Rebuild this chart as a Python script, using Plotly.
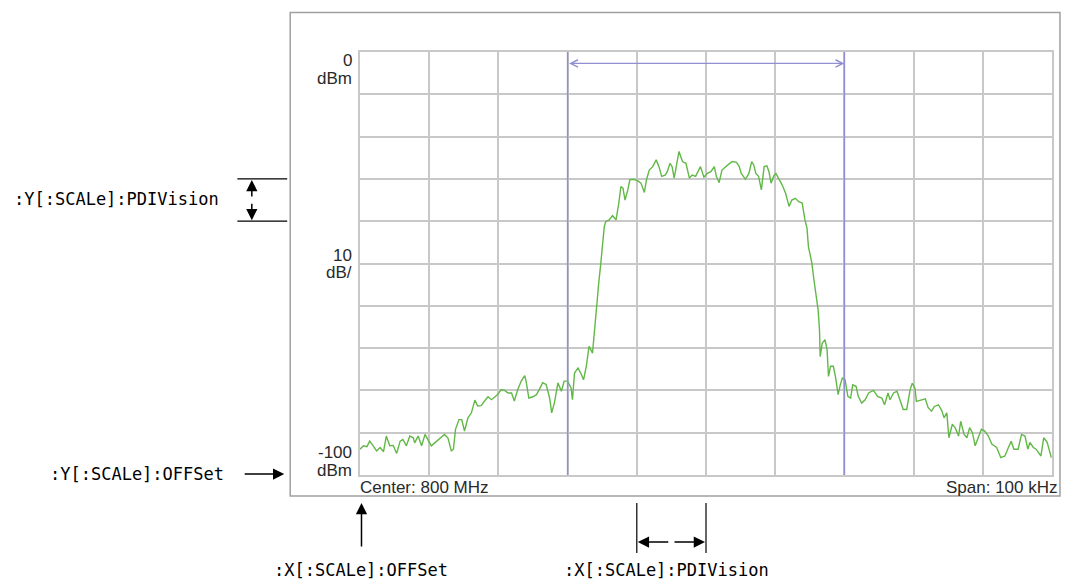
import plotly.graph_objects as go

# ---------------- data ----------------
center_label = "Center: 800 MHz"
span_label = "Span: 100 kHz"
x_range_khz = [-50, 50]
y_range_dbm = [-100, 0]
marker_khz = [-20, 20]

freq_khz = [
    -50.0, -49.5, -49.0, -48.6, -48.1, -47.6, -47.1, -46.6, -46.2, -45.7,
    -45.2, -44.7, -44.2, -43.8, -43.3, -42.8, -42.3, -42.1, -41.6, -41.1,
    -40.6, -40.2, -39.7, -39.2, -38.7, -38.2, -37.8, -37.3, -36.8, -36.5,
    -36.2, -35.7, -35.3, -34.9, -34.4, -33.9, -33.4, -33.0, -32.5, -32.0,
    -31.5, -31.0, -30.5, -30.1, -29.6, -29.1, -28.6, -28.1, -27.7, -27.2,
    -26.7, -26.2, -26.0, -25.6, -25.0, -24.5, -24.1, -23.6, -23.1, -22.6,
    -22.3, -21.9, -21.4, -20.9, -20.5, -20.0, -19.5, -19.3,
    -19.0, -18.5, -18.1, -17.7, -17.3, -16.9, -16.4, -16.1, -15.8, -15.5,
    -15.2, -14.9, -14.7, -14.5, -14.0, -13.5, -13.0, -12.6, -12.3, -12.0,
    -11.7, -11.3, -11.0, -10.5, -9.9, -9.4, -8.9, -8.6, -8.2, -7.7,
    -7.2, -6.8, -6.4, -5.9, -5.6, -5.2, -4.9, -4.6, -4.3, -3.9,
    -3.4, -2.9, -2.4, -2.0, -1.5, -1.1, -0.8, -0.3, 0.2, 0.7,
    1.2, 1.5, 1.9, 2.3, 2.8, 3.3, 3.8, 4.4, 4.8, 5.1,
    5.7, 6.2, 6.6, 6.9, 7.2, 7.6, 8.0, 8.4, 8.8, 9.1,
    9.4, 9.8, 10.1, 10.5,
    11.0, 11.5, 12.0, 12.4, 12.9, 13.4, 13.9, 14.3, 14.6, 14.8,
    15.3, 15.6, 15.9, 16.2, 16.4, 16.5, 16.8, 17.2, 17.5, 17.7,
    18.0, 18.4, 18.7, 19.1, 19.4, 19.7, 20.1, 20.5, 20.9, 21.2,
    21.7, 22.0, 22.5, 23.0, 23.5, 24.2, 24.8,
    25.4, 25.8, 26.3, 26.6, 27.1, 27.6, 28.1, 28.5, 29.0, 29.5,
    29.8, 30.2, 30.4, 31.2, 31.7, 32.1, 32.6, 33.0, 33.6, 34.1,
    34.4, 34.8, 35.1, 35.6, 36.0, 36.5, 36.8, 37.3, 37.7, 38.1,
    38.5, 38.9, 39.3, 39.8, 40.3, 40.8, 41.3, 42.0, 42.6, 43.2,
    43.7, 44.1, 44.5, 45.1, 45.6, 46.1, 46.5, 46.8, 47.3, 47.7,
    48.4, 48.8, 49.3, 49.9,
]

level_dbm = [
    -93.9, -93.1, -93.3, -92.0, -93.1, -94.3, -93.5, -94.5, -90.8, -93.1,
    -93.0, -94.9, -92.0, -91.6, -93.1, -90.8, -91.2, -92.4, -90.8, -93.1,
    -90.4, -91.6, -93.1, -92.4, -91.6, -90.8, -90.4, -91.2, -94.3, -93.9,
    -89.2, -86.9, -86.9, -89.6, -86.5, -85.3, -82.3, -83.7, -83.6, -82.5,
    -81.5, -82.2, -81.4, -81.0, -79.8, -80.0, -80.6, -80.6, -82.5, -79.8,
    -77.8, -76.5, -77.8, -81.8, -81.5, -81.0, -79.8, -78.2, -78.6, -81.8,
    -85.3, -82.9, -78.2, -80.2, -77.8, -77.8, -79.4, -82.2,
    -75.9, -74.7, -75.9, -77.5, -74.3, -69.6, -71.2, -64.9, -60.2, -54.6,
    -49.9, -44.4, -41.3, -40.1, -39.7, -38.7, -39.7, -35.7, -31.8, -32.2,
    -35.0, -32.6, -30.2, -30.1, -30.4, -31.0, -33.2, -30.2, -27.9, -27.1,
    -25.5, -27.1, -29.4, -29.1, -28.3, -26.3, -27.1, -29.8, -26.7, -23.5,
    -25.9, -26.3, -29.8, -29.1, -29.4, -27.9, -27.1, -29.6, -28.7, -28.3,
    -27.1, -29.4, -30.9, -27.9, -27.1, -26.5, -25.9, -26.1, -27.1, -28.7,
    -30.1, -28.7, -25.9, -26.7, -28.7, -29.4, -32.6, -27.1, -26.9, -28.3,
    -31.0, -29.3, -28.7, -29.8,
    -31.4, -33.4, -36.5, -35.0, -34.6, -35.4, -35.7, -39.7, -41.7, -46.0,
    -49.9, -53.9, -57.8, -60.9, -65.7, -72.0, -68.8, -68.0, -70.4, -76.7,
    -74.3, -74.3, -76.7, -81.0, -78.7, -77.1, -77.5, -81.4, -81.8, -78.7,
    -79.1, -81.4, -83.0, -82.2, -80.6, -80.0, -81.4,
    -81.8, -83.4, -80.6, -82.2, -80.6, -80.2, -82.6, -84.5, -84.5, -79.8,
    -78.3, -79.5, -82.6, -82.2, -82.0, -84.1, -84.9, -83.8, -83.4, -84.9,
    -86.5, -85.3, -91.2, -88.0, -88.8, -90.8, -87.3, -90.4, -91.2, -88.8,
    -90.0, -93.1, -91.2, -89.2, -89.6, -90.8, -92.7, -93.5, -95.9, -95.5,
    -93.5, -92.0, -93.9, -93.9, -90.4, -90.8, -93.9, -92.3, -93.5, -93.9,
    -95.5, -91.2, -92.3, -95.9,
]

# ---------------- layout helpers ----------------
W, H = 1065, 583
L, R, T, B = 360, 1054, 52, 475


def px(x):
    return (x - L) / (R - L)


def py(y):
    return (B - y) / (B - T)


GRID = "#c8c8c8"
BLUE = "#8f8fd2"
GREEN = "#62b846"
TXT = "#2a2a2a"
SANS = "Liberation Sans"
MONO = "DejaVu Sans Mono"

fig = go.Figure()
fig.add_trace(go.Scatter(
    x=freq_khz, y=level_dbm, mode="lines",
    line=dict(color=GREEN, width=1.4), hoverinfo="skip", showlegend=False,
))

shapes = []
# outer instrument frame
shapes.append(dict(type="rect", xref="paper", yref="paper",
                   x0=px(290), x1=px(1062), y0=py(496), y1=py(12.5),
                   line=dict(color="#a0a0a0", width=1.5), layer="below"))
# blue marker lines
for m in marker_khz:
    shapes.append(dict(type="line", xref="x", yref="y", x0=m, x1=m,
                       y0=y_range_dbm[0], y1=y_range_dbm[1],
                       line=dict(color=BLUE, width=1.5)))
# Y per-division bracket lines
for yv in (-30, -40):
    shapes.append(dict(type="line", xref="paper", yref="y",
                       x0=px(237), x1=px(287), y0=yv, y1=yv,
                       line=dict(color="black", width=1.2)))
# X per-division bracket lines
for xv in (-10, 0):
    shapes.append(dict(type="line", xref="x", yref="paper",
                       x0=xv, x1=xv, y0=py(553), y1=py(503),
                       line=dict(color="black", width=1.2)))

ann = []
# blue double arrow between markers
ann.append(dict(x=marker_khz[1], y=-2.7, ax=marker_khz[0], ay=-2.7,
                xref="x", yref="y", axref="x", ayref="y", text="",
                showarrow=True, arrowside="end+start", arrowhead=5,
                startarrowhead=5, arrowsize=1.2, startarrowsize=1.2,
                arrowwidth=1.2, arrowcolor=BLUE))

# y tick labels
for yv, txt, sh in [(0, "0", -8), (0, "dBm", -26), (-50, "10", 8), (-50, "dB/", -9),
                    (-100, "-100", 23), (-100, "dBm", 5)]:
    ann.append(dict(x=0, y=yv, xref="paper", yref="y", text=txt, showarrow=False,
                    xanchor="right", yanchor="middle", xshift=-6, yshift=sh,
                    font=dict(family=SANS, size=17, color=TXT)))
ann.append(dict(x=0, y=0, xref="paper", yref="paper", text=center_label,
                showarrow=False, xanchor="left", yanchor="middle", xshift=-2, yshift=-12,
                font=dict(family=SANS, size=17, color=TXT)))
ann.append(dict(x=px(1062), y=0, xref="paper", yref="paper", text=span_label,
                showarrow=False, xanchor="right", yanchor="middle", xshift=0, yshift=-12,
                font=dict(family=SANS, size=17, color=TXT)))

# command labels
mono = dict(family=MONO, size=17, color="black")
ann.append(dict(x=px(221), y=py(199), xref="paper", yref="paper", text=":Y[:SCALe]:PDIVision",
                showarrow=False, xanchor="right", yanchor="middle", font=mono))
ann.append(dict(x=px(226), y=py(474), xref="paper", yref="paper", text=":Y[:SCALe]:OFFSet",
                showarrow=False, xanchor="right", yanchor="middle", font=mono))
ann.append(dict(x=px(361.5), y=py(570), xref="paper", yref="paper", text=":X[:SCALe]:OFFSet",
                showarrow=False, xanchor="center", yanchor="middle", font=mono))
ann.append(dict(x=px(667.5), y=py(570), xref="paper", yref="paper", text=":X[:SCALe]:PDIVision",
                showarrow=False, xanchor="center", yanchor="middle", font=mono))

arrow_style = dict(showarrow=True, arrowhead=2, arrowsize=1.5, arrowwidth=1.5,
                   arrowcolor="black", text="")
# Y per division double arrow
ann.append(dict(x=px(251.5), y=-30, xref="paper", yref="y", ax=0, ay=20,
                standoff=1, startstandoff=1, **arrow_style))
ann.append(dict(x=px(251.5), y=-40, xref="paper", yref="y", ax=0, ay=-20,
                standoff=1, startstandoff=1, **arrow_style))
# X per division double arrow
ann.append(dict(x=-10, y=py(542), xref="x", yref="paper", ax=34, ay=0,
                standoff=1, startstandoff=1, **arrow_style))
ann.append(dict(x=0, y=py(542), xref="x", yref="paper", ax=-34, ay=0,
                standoff=1, startstandoff=1, **arrow_style))
# offset arrows
ann.append(dict(x=px(284), y=py(474), xref="paper", yref="paper", ax=-41, ay=0, **arrow_style))
ann.append(dict(x=px(361.5), y=py(503), xref="paper", yref="paper", ax=0, ay=45, **arrow_style))

axis_common = dict(showticklabels=False, ticks="", showgrid=True, gridcolor=GRID,
                   gridwidth=1.5, zeroline=False, showline=True, linecolor=GRID,
                   linewidth=1.5, mirror=True, fixedrange=True)

fig.update_layout(
    width=W, height=H, autosize=False,
    margin=dict(l=L, r=W - R, t=T, b=H - B, pad=0),
    paper_bgcolor="white", plot_bgcolor="white",
    xaxis=dict(range=x_range_khz, dtick=10, tick0=0, **axis_common),
    yaxis=dict(range=y_range_dbm, dtick=10, tick0=0, **axis_common),
    shapes=shapes, annotations=ann, showlegend=False,
)

fig.write_html("out.html", config={"displayModeBar": False})

# remove the default browser body margin so the figure sits at the page origin
with open("out.html", "r", encoding="utf-8") as f:
    page = f.read()
page = page.replace("<head>", "<head><style>html,body{margin:0;padding:0;overflow:hidden;}</style>", 1)
with open("out.html", "w", encoding="utf-8") as f:
    f.write(page)
